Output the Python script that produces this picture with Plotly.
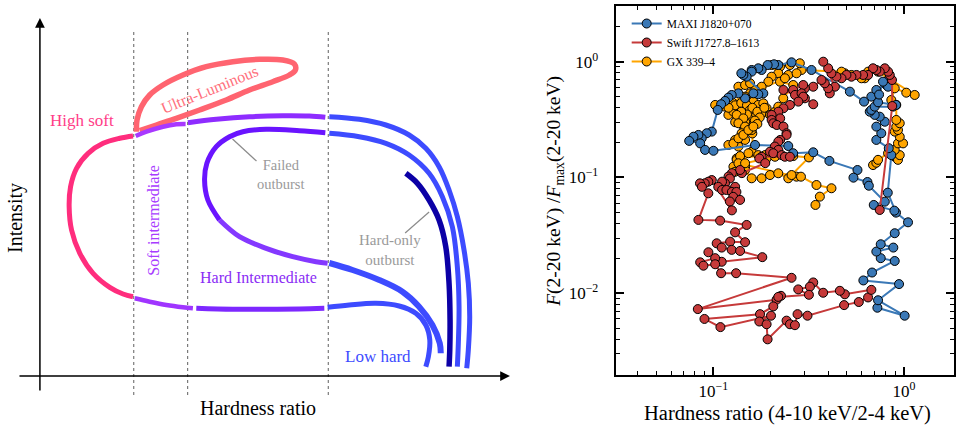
import plotly.graph_objects as go
import math

# ------------------------------------------------------------------
# Right panel data : hardness ratio (4-10 keV / 2-4 keV) vs normalised flux
# ------------------------------------------------------------------
MAXI_HR = [0.725, 1.008, 0.731, 0.942, 0.612, 0.680, 0.894, 0.755, 0.716, 0.879, 0.755, 0.894, 1.05, 0.908, 0.822, 0.858, 0.832,
           0.716, 0.760, 0.716, 0.793, 0.746, 0.702, 0.661, 0.674, 0.702, 0.876, 0.908, 0.731, 0.674, 0.716, 0.825, 0.808, 0.825, 0.776, 0.740, 0.617,
           0.520, 0.327, 0.257, 0.219, 0.208, 0.1925, 0.179, 0.172, 0.1587, 0.1587, 0.1494, 0.1436, 0.1401,
           0.1827, 0.172, 0.162, 0.1466, 0.1352, 0.1247, 0.1198, 0.1151, 0.1097, 0.1053,
           0.098, 0.0922, 0.0868, 0.0834, 0.0786, 0.0746, 0.0852, 0.0904, 0.100,
           0.1653, 0.247, 0.262, 0.334, 0.406, 0.570, 0.543, 0.643, 0.654, 0.793, 0.694, 0.890]
MAXI_F = [0.0075, 0.0064, 0.0087, 0.0120, 0.0129, 0.0151, 0.0190, 0.0201, 0.0229, 0.0248, 0.0265, 0.0330, 0.0410, 0.0497, 0.0739, 0.156, 0.179,
          0.211, 0.241, 0.275, 0.303, 0.335, 0.347, 0.370, 0.383, 0.409, 0.409, 0.423, 0.446, 0.499, 0.570, 0.695, 0.629, 0.608, 0.672, 0.52, 0.452,
          0.551, 0.848, 0.988, 0.936, 0.950, 0.936, 0.848, 0.877, 0.848, 0.820, 0.742, 0.768, 0.794,
          0.533, 0.523, 0.533, 0.483, 0.533, 0.516, 0.489, 0.458, 0.429, 0.383,
          0.249, 0.241, 0.218, 0.233, 0.225, 0.207, 0.197, 0.173, 0.170,
          0.191, 0.187, 0.162, 0.165, 0.139, 0.116, 0.0996, 0.0914, 0.0849, 0.0618, 0.0579, 0.0517]

SWIFT_HR = [0.746, 0.868, 0.865, 0.842, 0.825, 0.793, 0.746, 0.716, 0.688, 0.648, 0.610, 0.563, 0.530, 0.499, 0.470, 0.442, 0.416, 0.400, 0.377,
            0.434, 0.408, 0.400, 0.384, 0.369, 0.334, 0.302, 0.296, 0.262, 0.233, 0.268, 0.290, 0.302, 0.334, 0.296, 0.279, 0.252, 0.233, 0.219, 0.202,
            0.224, 0.202, 0.206, 0.215, 0.233, 0.242, 0.242, 0.224, 0.219, 0.210, 0.219, 0.198, 0.206, 0.228, 0.237, 0.252, 0.179, 0.174, 0.187,
            0.141, 0.138, 0.125, 0.120, 0.122, 0.115, 0.111, 0.106, 0.130, 0.111, 0.117, 0.125, 0.132, 0.127, 0.138, 0.122, 0.125,
            0.098, 0.094, 0.090, 0.085, 0.087, 0.094,
            0.0834, 0.1084, 0.1494, 0.1299, 0.1466, 0.1223, 0.1040, 0.1105, 0.1247, 0.1380, 0.1805, 0.1105, 0.0941, 0.1021, 0.0852, 0.0886, 0.1021, 0.1097, 0.1315, 0.257,
            0.0828, 0.2145, 0.2262, 0.2061, 0.1756, 0.0897, 0.1088, 0.2005, 0.1741, 0.1901, 0.1924, 0.2419, 0.2521, 0.2677,
            0.2763, 0.3116, 0.4851, 0.5793, 0.6479, 0.6742, 0.4893, 0.4606, 0.3766, 0.3340, 0.3209, 0.2786, 0.3170, 0.2189]
SWIFT_F = [0.0524, 0.414, 0.695, 0.768, 0.820, 0.877, 0.820, 0.848, 0.877, 0.768, 0.768, 0.768, 0.742, 0.768, 0.719, 0.742, 0.794, 0.877, 1.0,
           0.608, 0.533, 0.589, 0.651, 0.695, 0.608, 0.589, 0.629, 0.570, 0.570, 0.516, 0.533, 0.483, 0.429, 0.499, 0.452, 0.423, 0.396, 0.370, 0.347,
           0.324, 0.314, 0.294, 0.284, 0.275, 0.241, 0.233, 0.211, 0.204, 0.185, 0.173, 0.167, 0.162, 0.156, 0.151, 0.151, 0.151, 0.146, 0.133,
           0.109, 0.116, 0.109, 0.102, 0.098, 0.089, 0.092, 0.083, 0.083, 0.078, 0.078, 0.075, 0.075, 0.068, 0.064, 0.062, 0.052,
           0.095, 0.092, 0.089, 0.089, 0.083, 0.073,
           0.0430, 0.0424, 0.0389, 0.0336, 0.0276, 0.0279, 0.0270, 0.0248, 0.0237, 0.0232, 0.0205, 0.0187, 0.0226, 0.0201, 0.0185, 0.0173, 0.0178, 0.0149, 0.0149, 0.0136,
           0.0073, 0.0088, 0.0095, 0.0077, 0.0066, 0.0060, 0.0051, 0.0064, 0.0057, 0.0054, 0.0040, 0.0058, 0.0054, 0.0053,
           0.0066, 0.0064, 0.0079, 0.0084, 0.0092, 0.0107, 0.0098, 0.0105, 0.0101, 0.0124, 0.0114, 0.0108, 0.0097, 0.0093]

GX_HR = [0.688, 0.716, 0.731, 0.825, 0.894, 0.930, 0.950, 0.894, 0.930, 0.989, 0.950, 0.894, 0.930, 0.911, 0.950, 0.911, 0.911, 0.858, 0.894, 1.028, 1.138,
         0.731, 0.648, 0.6225, 0.598, 0.530, 0.489, 0.470, 0.290, 0.284, 0.252, 0.2235, 0.2019, 0.2189, 0.247, 0.273, 0.2019, 0.1941, 0.179, 0.1653, 0.1557, 0.1466, 0.1352, 0.1466, 0.1557,
         0.1021, 0.1151, 0.1198, 0.1273, 0.1352, 0.1436, 0.162, 0.172, 0.1827, 0.1901, 0.179, 0.1653, 0.1557, 0.1466, 0.1981, 0.2104, 0.2189, 0.2325, 0.2623, 0.2235, 0.2373,
         0.125, 0.130, 0.140, 0.150, 0.155, 0.160, 0.170, 0.175, 0.165, 0.150, 0.140, 0.185, 0.120, 0.130, 0.160, 0.170, 0.145,
         0.1324, 0.1436, 0.1352, 0.1466, 0.1587, 0.1406, 0.1466, 0.1299, 0.1352, 0.1198, 0.1273, 0.1352, 0.1436, 0.1526, 0.162,
         0.1587, 0.172, 0.1865, 0.1324, 0.1324, 0.1380, 0.1526, 0.1352, 0.1466, 0.1273, 0.1299, 0.1466, 0.1587, 0.179, 0.1981, 0.2189, 0.247, 0.2729,
         0.1352, 0.1466, 0.1901, 0.2104, 0.2623, 0.3170, 0.2570, 0.2879, 0.3473, 0.4163, 0.3618, 0.3431]
GX_F = [0.128, 0.134, 0.142, 0.162, 0.151, 0.142, 0.156, 0.173, 0.197, 0.197, 0.225, 0.249, 0.257, 0.275, 0.294, 0.314, 0.423, 0.467, 0.589, 0.540, 0.516,
        0.820, 0.820, 0.719, 0.719, 0.768, 0.794, 0.820, 0.848, 0.969, 0.936, 0.905, 0.936, 0.794, 0.768, 0.794, 0.742, 0.672, 0.608, 0.570, 0.533, 0.499, 0.608, 0.629, 0.651,
        0.423, 0.409, 0.347, 0.370, 0.335, 0.396, 0.452, 0.423, 0.437, 0.396, 0.358, 0.347, 0.314, 0.303, 0.347, 0.370, 0.409, 0.483, 0.629, 0.672, 0.719,
        0.450, 0.420, 0.440, 0.420, 0.380, 0.400, 0.370, 0.330, 0.310, 0.350, 0.370, 0.400, 0.400, 0.300, 0.240, 0.290, 0.260,
        0.347, 0.324, 0.294, 0.275, 0.257, 0.241, 0.211, 0.211, 0.185, 0.191, 0.197, 0.218, 0.233, 0.257, 0.275,
        0.167, 0.156, 0.156, 0.146, 0.142, 0.153, 0.162, 0.128, 0.124, 0.124, 0.112, 0.116, 0.0984, 0.0984, 0.105, 0.1087, 0.0984, 0.1016,
        0.1327, 0.1327, 0.146, 0.151, 0.153, 0.149, 0.105, 0.1016, 0.0861, 0.0807, 0.0683, 0.0579]

SERIES_NAMES = ["MAXI J1820+070", "Swift J1727.8\u20131613", "GX 339\u20134"]
X_TICKS = [0.1, 1.0]
X_TICK_TEXT = ["10<sup>\u22121</sup>", "10<sup>0</sup>"]
Y_TICKS = [0.01, 0.1, 1.0]
Y_TICK_TEXT = ["10<sup>\u22122</sup>", "10<sup>\u22121</sup>", "10<sup>0</sup>"]
X_MINOR = [0.04, 0.05, 0.06, 0.07, 0.08, 0.09, 0.2, 0.3, 0.4, 0.5, 0.6, 0.7, 0.8, 0.9]
Y_MINOR = [0.003, 0.004, 0.005, 0.006, 0.007, 0.008, 0.009, 0.02, 0.03, 0.04, 0.05, 0.06, 0.07, 0.08, 0.09,
           0.2, 0.3, 0.4, 0.5, 0.6, 0.7, 0.8, 0.9, 2.0]

# ------------------------------------------------------------------
# Left panel: schematic q-diagram, sketch coordinates (x right, y down)
# ------------------------------------------------------------------
UL_X = [136.7, 137.3, 141.7, 150, 163.3, 183.3, 206.7, 233.3, 260, 283.3, 295, 296, 290, 273.3, 250, 226.7, 200, 176.7, 156.7, 140]
UL_Y = [131.7, 120, 106.7, 95, 85, 75, 66.7, 61.7, 59.3, 60, 64, 70, 75, 81.7, 90, 100, 110, 118.3, 125, 130.7]
HS_X = [133.3, 120, 103.3, 88.3, 76.7, 70.7, 69.3, 71.7, 80, 93.3, 110, 123.3, 133.3]
HS_Y = [136, 138.3, 143.3, 153.3, 168.3, 186.7, 206.7, 230, 253.3, 273.3, 287.3, 294, 296.7]
SI_TOP_X = [136, 146.7, 163.3, 176.7, 186]
SI_TOP_Y = [136, 131.7, 126.7, 124.3, 124]
HI_TOP_X = [188.3, 216.7, 250, 283.3, 310, 326]
HI_TOP_Y = [122.7, 119.3, 116.7, 115.7, 116, 117.3]
OUT1_X = [330, 360, 386.7, 410, 426.7, 440, 450, 458.3, 465, 469.3, 470.7, 469.3, 467.7]
OUT1_Y = [116.7, 119.3, 125, 135, 148.3, 166.7, 190, 216.7, 250, 283.3, 316.7, 350, 368.3]
FAIL_A_X = [326, 300, 266.7, 243.3, 230, 216.7, 207.3, 205, 208.3, 220]
FAIL_A_Y = [132.7, 130.7, 129.3, 131.7, 136.7, 146.7, 163.3, 180, 200, 220]
FAIL_B_X = [220, 240, 266.7, 293.3, 316.7, 328.3]
FAIL_B_Y = [220, 236.7, 248.3, 256.7, 261.7, 263.3]
OUT2_X = [330, 360, 386.7, 410, 430, 443.3, 453.3, 458.3, 460, 459.3, 458.3]
OUT2_Y = [133.3, 136.7, 143.3, 155, 173.3, 196.7, 226.7, 266.7, 306.7, 343.3, 366.7]
OUT3_X = [330, 353.3, 380, 403.3, 420, 433.3, 440.7, 441.7]
OUT3_Y = [263, 270, 280, 291.7, 306.7, 325, 343.3, 353.3]
SI_BOT_X = [135, 150, 166.7, 183.3, 193.3]
SI_BOT_Y = [298.3, 301.7, 305, 307.3, 308.3]
HI_BOT_X = [196.7, 233.3, 266.7, 300, 325]
HI_BOT_Y = [308.3, 309.3, 309.3, 309, 308.3]
LH_BOT_X = [328.3, 350, 376.7, 400, 416.7, 426.7, 430.7, 429.3, 426.7]
LH_BOT_Y = [307.3, 305, 303.3, 306, 313.3, 325, 340, 356.7, 366.7]
HO_X = [406.7, 418.3, 430, 440, 446.7, 450, 451, 450.7, 450]
HO_Y = [173.3, 183.3, 200, 220, 246.7, 283.3, 320, 350, 366.7]
POINTER1_X = [233, 257]
POINTER1_Y = [139, 161]
POINTER2_X = [430, 406]
POINTER2_Y = [212, 233]
DASH_X = [134, 188, 329]
DASH_Y = [32, 397]

SERIF = "Liberation Serif, Times New Roman, serif"
W, H = 956, 427

fig = go.Figure()

def stroke(xs, ys, color, width, shape="spline", dash=None):
    fig.add_trace(go.Scatter(x=xs, y=ys, mode="lines", xaxis="x", yaxis="y",
                             line=dict(color=color, width=width, shape=shape, smoothing=1.0, dash=dash),
                             showlegend=False, hoverinfo="skip"))

for dx in DASH_X:
    stroke([dx, dx], DASH_Y, "#7a7a7a", 1.2, "linear", "3px,3px")

stroke(UL_X, UL_Y, "#ff6470", 5.5)
stroke(HS_X, HS_Y, "#ff2d7d", 5)
stroke(SI_TOP_X, SI_TOP_Y, "#a838ff", 4.5)
stroke(HI_TOP_X, HI_TOP_Y, "#8e2cff", 5)
stroke(OUT1_X, OUT1_Y, "#3d4bff", 5)
stroke(FAIL_A_X, FAIL_A_Y, "#6a14ff", 5)
stroke(FAIL_B_X, FAIL_B_Y, "#8438ff", 5)
stroke(OUT2_X, OUT2_Y, "#3d4bff", 5)
stroke(OUT3_X, OUT3_Y, "#3d4bff", 6)
stroke(SI_BOT_X, SI_BOT_Y, "#a035ff", 4.5)
stroke(HI_BOT_X, HI_BOT_Y, "#7d28ff", 5)
stroke(LH_BOT_X, LH_BOT_Y, "#3d4bff", 5)
stroke(HO_X, HO_Y, "#0c00a6", 5.5)
stroke(POINTER1_X, POINTER1_Y, "#8a8a8a", 1.2, "linear")
stroke(POINTER2_X, POINTER2_Y, "#8a8a8a", 1.2, "linear")

# ---- right panel traces (drawing order: GX, MAXI, Swift) ----
SPECS = [
    (GX_HR, GX_F, SERIES_NAMES[2], "#ffa500", 3),
    (MAXI_HR, MAXI_F, SERIES_NAMES[0], "#3a78b6", 1),
    (SWIFT_HR, SWIFT_F, SERIES_NAMES[1], "#c63a3a", 2),
]
for xs, ys, name, col, rank in SPECS:
    fig.add_trace(go.Scatter(x=xs, y=ys, name=name, mode="lines+markers",
                             xaxis="x2", yaxis="y2", legendrank=rank,
                             line=dict(color=col, width=2),
                             marker=dict(size=9, color=col, line=dict(color="black", width=1))))

x0 = 617 / W
fig.update_layout(
    width=W, height=H, margin=dict(l=0, r=0, t=0, b=0),
    paper_bgcolor="white", plot_bgcolor="white",
    font=dict(family=SERIF, color="black"),
    xaxis=dict(domain=[0, 520 / W], range=[0, 520], visible=False, fixedrange=True),
    yaxis=dict(domain=[0, 1], range=[427, 0], visible=False, fixedrange=True),
    xaxis2=dict(domain=[x0, 1.0], anchor="y2", type="log",
                range=[math.log10(0.0307), math.log10(1.83)],
                showline=True, linewidth=2, linecolor="black", mirror="ticks",
                ticks="inside", ticklen=8, tickwidth=1.5, tickcolor="black",
                tickmode="array", tickvals=X_TICKS, ticktext=X_TICK_TEXT,
                tickfont=dict(family=SERIF, size=17, color="black"),
                minor=dict(ticks="inside", ticklen=4, tickwidth=1, tickcolor="black",
                           tickmode="array", tickvals=X_MINOR, showgrid=False),
                showgrid=False, zeroline=False),
    yaxis2=dict(domain=[52 / H, 421 / H], anchor="x2", type="log",
                range=[-2.706, 0.481],
                showline=True, linewidth=2, linecolor="black", mirror="ticks",
                ticks="inside", ticklen=8, tickwidth=1.5, tickcolor="black",
                tickmode="array", tickvals=Y_TICKS, ticktext=Y_TICK_TEXT,
                tickfont=dict(family=SERIF, size=17, color="black"),
                ticklabelstandoff=12,
                minor=dict(ticks="inside", ticklen=4, tickwidth=1, tickcolor="black",
                           tickmode="array", tickvals=Y_MINOR, showgrid=False),
                showgrid=False, zeroline=False),
    legend=dict(x=628 / W, y=1 - 9 / H, xanchor="left", yanchor="top",
                bgcolor="rgba(255,255,255,0)", borderwidth=0,
                font=dict(family=SERIF, size=11.5, color="black"),
                tracegroupgap=0),
)

ann = []
def label(text, x, y, color="black", size=15, angle=0):
    ann.append(dict(text=text, x=x, y=y, xref="x", yref="y",
                    showarrow=False, textangle=angle, xanchor="center", yanchor="middle",
                    font=dict(family=SERIF, size=size, color=color)))

label("High soft", 82, 120, "#ff3d88", 17)
label("Ultra-Luminous", 210, 89, "#ff6f7c", 16, -22)
label("Soft intermediate", 153, 220, "#a83cff", 16, -90)
label("Hard Intermediate", 259, 277, "#8a2cf5", 16)
label("Failed<br>outburst", 282, 174, "#9a9a9a", 14.5)
label("Hard-only<br>outburst", 391, 250, "#9a9a9a", 15)
label("Low hard", 379, 356, "#3d4bff", 17)
label("Intensity", 15, 218, "black", 20, -90)
label("Hardness ratio", 259, 408, "black", 20)

# axis arrows of the schematic
ann.append(dict(x=40, y=18, ax=40, ay=392, xref="x", yref="y", axref="x", ayref="y",
                showarrow=True, arrowhead=2, arrowsize=1.3, arrowwidth=1.5, arrowcolor="black", text=""))
ann.append(dict(x=511, y=376, ax=18, ay=376, xref="x", yref="y", axref="x", ayref="y",
                showarrow=True, arrowhead=2, arrowsize=1.3, arrowwidth=1.5, arrowcolor="black", text=""))

# right panel axis titles
ann.append(dict(text="Hardness ratio (4-10 keV/2-4 keV)", x=789 / W, y=1 - 413 / H,
                xref="paper", yref="paper", showarrow=False, xanchor="center", yanchor="middle",
                font=dict(family=SERIF, size=20.5, color="black")))
ann.append(dict(text="<i>F</i>(2-20 keV) /<i>F</i><sub>max</sub>(2-20 keV)", x=556 / W, y=1 - 191 / H,
                xref="paper", yref="paper", showarrow=False, textangle=-90,
                xanchor="center", yanchor="middle",
                font=dict(family=SERIF, size=19.5, color="black")))

fig.update_layout(annotations=ann)
fig.write_html("out.html")
